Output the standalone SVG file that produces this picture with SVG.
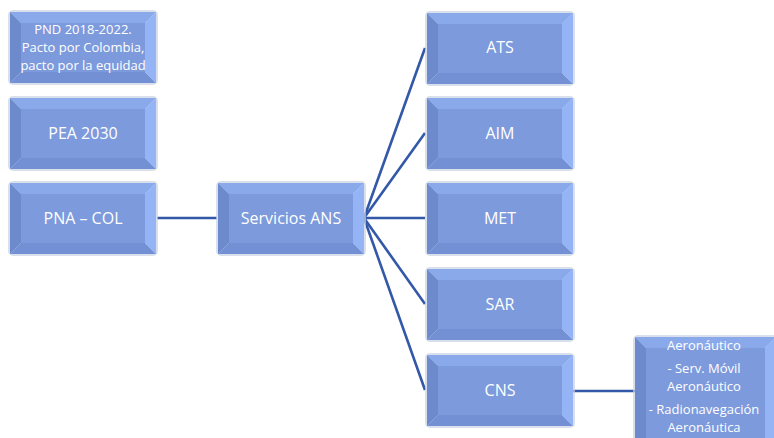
<svg xmlns="http://www.w3.org/2000/svg" width="774" height="438" viewBox="0 0 774 438">
<style>
.t{font-family:"Open Sans","Liberation Sans",sans-serif;font-size:16px;fill:#fff;text-anchor:middle}
.s{font-family:"Open Sans","Liberation Sans",sans-serif;font-size:13px;fill:#fff;text-anchor:middle}
.c{stroke:#3358A8;stroke-width:2.6;fill:none}
.halo{fill:#C9D2E2;opacity:.7}
.top{fill:#8AA9EB}.lef{fill:#6D8ACC}.bot{fill:#7390D4}.rig{fill:#94B4F5}.mid{fill:#7C9ADC}
</style>
<defs>
<symbol id="box" viewBox="-2 -2 150 75" overflow="visible">
<rect class="halo" x="-2" y="-2" width="150" height="75" rx="5"/>
<polygon class="top" points="0,0 146,0 135,11 11,11"/>
<polygon class="lef" points="0,0 11,11 11,60 0,71"/>
<polygon class="bot" points="0,71 11,60 135,60 146,71"/>
<polygon class="rig" points="146,0 146,71 135,60 135,11"/>
<rect class="mid" x="11" y="11" width="124" height="49"/>
</symbol>
</defs>
<rect width="774" height="438" fill="#fff"/>
<g id="connectors">
<line class="c" x1="157" y1="218" x2="217" y2="218"/>
<line class="c" x1="364" y1="218" x2="425" y2="48"/>
<line class="c" x1="364" y1="218" x2="425" y2="133"/>
<line class="c" x1="364" y1="218" x2="425" y2="218"/>
<line class="c" x1="364" y1="218" x2="425" y2="304"/>
<line class="c" x1="364" y1="218" x2="425" y2="390"/>
<line class="c" x1="573" y1="391" x2="635" y2="391"/>
</g>
<g id="pnd">
<use href="#box" x="8" y="10" width="150" height="75"/>
<text class="s" x="83" y="34">PND 2018-2022.</text>
<text class="s" x="83" y="52">Pacto por Colombia,</text>
<text class="s" x="83" y="70">pacto por la equidad</text>
</g>
<g id="pea">
<use href="#box" x="8" y="96" width="150" height="75"/>
<text class="t" x="83" y="139">PEA 2030</text>
</g>
<g id="pna">
<use href="#box" x="8" y="181" width="150" height="75"/>
<text class="t" x="83" y="224">PNA – COL</text>
</g>
<g id="ans">
<use href="#box" x="216" y="181" width="150" height="75"/>
<text class="t" x="291" y="224">Servicios ANS</text>
</g>
<g id="ats">
<use href="#box" x="425" y="11" width="150" height="75"/>
<text class="t" x="500" y="53">ATS</text>
</g>
<g id="aim">
<use href="#box" x="425" y="96" width="150" height="75"/>
<text class="t" x="500" y="139">AIM</text>
</g>
<g id="met">
<use href="#box" x="425" y="181" width="150" height="75"/>
<text class="t" x="500" y="224">MET</text>
</g>
<g id="sar">
<use href="#box" x="425" y="267" width="150" height="75"/>
<text class="t" x="500" y="310">SAR</text>
</g>
<g id="cns">
<use href="#box" x="425" y="353" width="150" height="75"/>
<text class="t" x="500" y="396">CNS</text>
</g>
<g id="cns-detail">
<rect class="halo" x="633" y="335" width="145" height="115" rx="5"/>
<polygon class="top" points="635,337 776,337 765,348 646,348"/>
<polygon class="lef" points="635,337 646,348 646,438 635,449"/>
<polygon class="rig" points="776,337 776,449 765,438 765,348"/>
<rect class="mid" x="646" y="348" width="119" height="90"/>
<text class="s" x="704" y="350">Aeronáutico</text>
<text class="s" x="704" y="373">- Serv. Móvil</text>
<text class="s" x="704" y="391">Aeronáutico</text>
<text class="s" x="704" y="414">- Radionavegación</text>
<text class="s" x="704" y="432">Aeronáutica</text>
</g>
</svg>
